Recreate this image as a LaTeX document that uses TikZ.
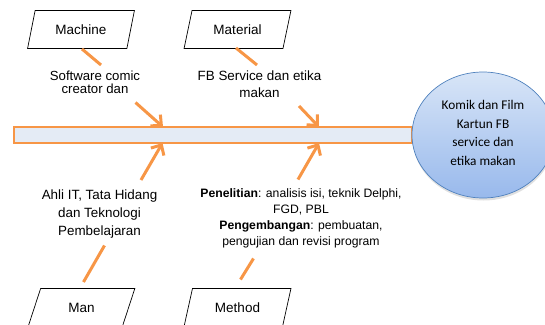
\documentclass[tikz,border=0pt]{standalone}
\usepackage{fontspec}
\setmainfont{Liberation Sans}
\newfontfamily\carlito{Carlito}
\usetikzlibrary{shapes.geometric,arrows.meta}
\definecolor{fishorange}{HTML}{F79646}
\definecolor{spinefill}{HTML}{E4EBF5}
\definecolor{headtop}{HTML}{D8E5F7}
\definecolor{headbot}{HTML}{98B9EC}
\definecolor{headline}{HTML}{4F81BD}
\begin{document}
\begin{tikzpicture}[x=1pt,y=-1pt,
  catbox/.style={draw=black, line width=0.7pt, trapezium, trapezium left angle=67,
    trapezium right angle=113, trapezium stretches=true, minimum width=107pt,
    minimum height=38pt, inner sep=0pt, font=\fontsize{13.5}{16}\selectfont},
  bone/.style={draw=fishorange, line width=3pt},
  ribarrow/.style={bone, -{Straight Barb[length=8pt,width=15pt]}},
  cause/.style={align=center, inner sep=0pt, font=\fontsize{13.4}{17.8}\selectfont},
  smallcause/.style={align=center, inner sep=0pt, font=\fontsize{13.2}{13.5}\selectfont},
  fbcause/.style={align=center, inner sep=0pt, font=\fontsize{13.4}{17}\selectfont},
  methodtext/.style={align=center, inner sep=0pt, font=\fontsize{12.2}{16}\selectfont}
]
\useasboundingbox (0,0) rectangle (545,324);
\begin{scope}
\clip (0,0) rectangle (545,324);
% spine
\node[draw=fishorange, line width=2.5pt, fill=spinefill, minimum width=398pt,
  minimum height=16pt, inner sep=0pt] (spine) at (213,135) {};
% head shadow and head
\node[ellipse, fill=black, opacity=0.12, minimum width=142pt, minimum height=126pt,
  inner sep=0pt] (headshadow) at (483.5,137.5) {};
\node[ellipse, draw=headline, line width=0.7pt, top color=headtop, bottom color=headbot,
  minimum width=142pt, minimum height=126pt, inner sep=0pt] (head) at (483,135) {};
\node[align=center, inner sep=0pt, font=\carlito\fontsize{13.3}{18.4}\selectfont]
  (headtext) at (483,133) {Komik dan Film\\Kartun FB\\service dan\\etika makan};
% category boxes
\node[catbox] (machine) at (81,29.5) {Machine};
\node[catbox] (material) at (237.5,29.5) {Material};
\node[catbox] (man) at (81.5,307.5) {Man};
\node[catbox] (method) at (237.5,307.5) {Method};
% cause texts
\node[smallcause] (softw) at (95,82.5) {Software comic\\creator dan};
\node[fbcause] (fbserv) at (259.5,84.5) {FB Service dan etika\\makan};
\node[cause] (ahli) at (99.5,214) {Ahli IT, Tata Hidang\\dan Teknologi\\Pembelajaran};
\node[methodtext] (meth) at (301,218) {\textbf{Penelitian}: analisis isi, teknik Delphi,\\FGD, PBL\\\textbf{Pengembangan}: pembuatan,\\pengujian dan revisi program};
% connector coordinates
\coordinate (machA) at (82,49);
\coordinate (machB) at (101,65);
\coordinate (machC) at (135.5,102.5);
\coordinate (machT) at (163,127);
\coordinate (matA) at (236,48);
\coordinate (matB) at (257,65);
\coordinate (matC) at (299,106);
\coordinate (matT) at (319,127);
\coordinate (manA) at (104.5,245.5);
\coordinate (manB) at (83.5,282);
\coordinate (manC) at (141,180);
\coordinate (manT) at (162.5,143);
\coordinate (metA) at (253.5,258.5);
\coordinate (metB) at (240.5,279.5);
\coordinate (metC) at (298,179.5);
\coordinate (metT) at (319,143);
% bones
\draw[bone] (machA) -- (machB);
\draw[ribarrow] (machC) -- (machT);
\draw[bone] (matA) -- (matB);
\draw[ribarrow] (matC) -- (matT);
\draw[bone] (manA) -- (manB);
\draw[ribarrow] (manC) -- (manT);
\draw[bone] (metA) -- (metB);
\draw[ribarrow] (metC) -- (metT);
\end{scope}
\end{tikzpicture}
\end{document}
